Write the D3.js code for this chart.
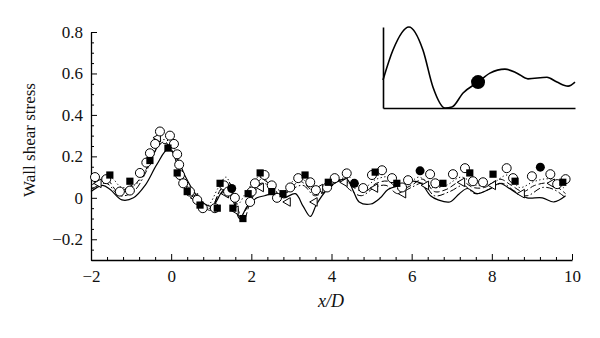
<!DOCTYPE html>
<html><head><meta charset="utf-8">
<script src="https://cdn.jsdelivr.net/npm/d3@7"></script>
<style>body{margin:0;background:#fff}svg{display:block}</style>
</head><body>
<svg id="c" width="600" height="338"></svg>
<script>
// ---- data ----
const xTicks = [-2, 0, 2, 4, 6, 8, 10];
const yTicks = [-0.2, 0, 0.2, 0.4, 0.6, 0.8];

// solid line
const solidX = [-2,-1.71,-1.52,-1.23,-0.94,-0.65,-0.36,-0.08,0.12,0.36,0.6,0.84,1.03,1.27,1.42,1.56,1.71,1.9,2.14,2.33,2.57,2.81,3.1,3.29,3.47,3.63,3.89,4.16,4.38,4.55,4.69,4.98,5.22,5.41,5.8,5.99,6.23,6.47,6.66,6.95,7.19,7.39,7.63,7.92,8.2,8.4,8.64,8.88,9.26,9.55,9.84];
const solidY = [0.03,0.06,0.04,-0.01,0.0,0.06,0.16,0.235,0.2,0.1,0.02,-0.03,-0.04,0.03,0.05,-0.02,-0.1,-0.04,0.0,0.01,0.02,0.0,0.02,-0.04,-0.09,-0.03,0.04,0.08,0.09,0.03,-0.02,-0.03,0.0,0.04,0.065,0.08,0.07,0.01,-0.01,-0.02,0.02,0.045,0.02,0.04,0.07,0.05,0.02,0.0,0.0,-0.02,0.01];
// dashed line
const dashX = [-2,-1.62,-1.33,-1.04,-0.65,-0.36,-0.17,0.02,0.21,0.45,0.74,0.98,1.23,1.42,1.61,1.8,2.0,2.24,2.43,2.67,2.91,3.2,3.49,3.73,3.97,4.26,4.55,4.83,5.12,5.41,5.7,5.99,6.28,6.57,6.86,7.24,7.53,7.82,8.2,8.49,8.78,9.07,9.46,9.84];
const dashY = [0.06,0.09,0.03,0.04,0.13,0.24,0.27,0.23,0.12,0.03,-0.03,-0.05,0.04,0.08,-0.02,-0.11,0.0,0.09,0.07,0.02,0.03,0.08,0.04,0.02,0.05,0.09,0.05,0.03,0.07,0.08,0.04,0.06,0.09,0.03,0.04,0.08,0.05,0.05,0.09,0.06,0.03,0.06,0.07,0.02];
// dash-dot line
const dashDotX = [-2,-1.62,-1.28,-0.94,-0.56,-0.27,-0.03,0.17,0.41,0.7,0.98,1.18,1.37,1.56,1.71,1.95,2.24,2.52,2.77,3.0,3.29,3.58,3.87,4.21,4.45,4.74,5.08,5.36,5.65,5.99,6.28,6.57,6.95,7.29,7.58,7.92,8.25,8.59,8.88,9.26,9.55,9.84];
const dashDotY = [0.04,0.07,0.01,0.03,0.15,0.26,0.25,0.15,0.05,-0.02,-0.06,0.02,0.07,0.0,-0.09,-0.03,0.07,0.05,0.01,0.04,0.06,0.01,0.04,0.08,0.04,0.01,0.05,0.06,0.02,0.05,0.07,0.01,0.03,0.06,0.02,0.04,0.07,0.03,0.01,0.05,0.04,0.0];
// dotted line
const dotX = [-2,-1.52,-1.23,-0.85,-0.46,-0.22,0.02,0.26,0.6,0.89,1.18,1.37,1.66,1.85,2.19,2.52,2.81,3.15,3.49,3.78,4.11,4.45,4.74,5.12,5.51,5.8,6.18,6.52,6.86,7.24,7.63,8.01,8.4,8.69,9.07,9.46,9.84];
const dotY = [0.08,0.1,0.05,0.07,0.2,0.28,0.26,0.1,0.01,-0.04,0.05,0.1,-0.03,0.02,0.1,0.06,0.03,0.1,0.06,0.04,0.08,0.1,0.04,0.09,0.1,0.05,0.1,0.05,0.06,0.1,0.06,0.07,0.11,0.05,0.08,0.09,0.04];

// open circles
const circX = [-1.9,-1.62,-1.28,-1.03,-0.78,-0.62,-0.53,-0.4,-0.28,-0.03,0.07,0.15,0.2,0.22,0.3,0.47,0.65,0.79,1.09,1.32,1.42,1.59,1.97,2.01,2.09,2.33,2.51,2.64,2.97,3.17,3.47,3.61,3.89,4.08,4.38,4.79,5.01,5.26,5.51,5.76,5.91,6.46,6.59,7.03,7.33,7.53,7.78,8.37,8.53,9.0,9.46,9.63,9.84];
const circY = [0.10,0.09,0.03,0.035,0.12,0.17,0.215,0.26,0.32,0.30,0.26,0.21,0.16,0.11,0.07,0.03,-0.01,-0.05,-0.05,0.06,0.03,0.0,-0.02,0.03,0.07,0.11,0.06,0.0,0.05,0.095,0.075,0.037,0.05,0.095,0.118,0.047,0.11,0.133,0.095,0.05,0.085,0.114,0.07,0.114,0.143,0.08,0.075,0.143,0.095,0.104,0.114,0.066,0.09];
// filled squares
const sqX = [-1.53,-1.03,-0.53,-0.08,0.15,0.4,0.72,1.15,1.22,1.54,1.79,1.92,2.22,2.51,2.79,3.34,3.92,5.09,5.63,6.78,7.45,8.03,8.58,9.77];
const sqY = [0.11,0.08,0.18,0.24,0.12,0.03,-0.035,-0.05,0.07,-0.05,-0.1,0.02,0.12,0.03,0.02,0.11,0.075,0.124,0.07,0.07,0.12,0.114,0.08,0.075];
// open left-pointing triangles
const triX = [-1.81,-1.04,-0.33,0.6,1.37,1.61,2.24,2.91,3.58,3.72,4.33,5.09,5.79,6.36,7.26,8.03,8.75,9.5];
const triY = [0.07,0.04,0.29,0.0,0.02,-0.06,0.05,-0.02,-0.02,0.045,0.075,0.047,0.02,0.06,0.075,0.06,0.02,0.07];
// filled circles
const fcX = [1.51, 4.57, 6.21, 9.21];
const fcY = [0.045, 0.07, 0.13, 0.148];

// inset curve
const insetX = [0,0.52,1.35,2.08,2.6,3.23,3.59,4.17,4.95,5.57,6.35,6.98,7.55,8.54,9.06,9.64,10];
const insetY = [0.346,0.716,1.0,0.716,0.26,0.0,0.012,0.185,0.32,0.43,0.48,0.43,0.36,0.38,0.32,0.27,0.32];
const insetMarker = [4.95, 0.32];

// ---- drawing ----
const svg = d3.select("#c");
const font = "'Liberation Serif','DejaVu Serif',serif";
const x = d3.scaleLinear().domain([-2, 10]).range([91, 572]);
const y = d3.scaleLinear().domain([-0.3, 0.8]).range([260, 32]);
const fmtY = d => d === 0 ? "0" : d3.format(".1f")(d);
const fmtX = d3.format("d");

// minor ticks
const xMinor = d3.range(-2, 10.001, 0.4).map(v => +v.toFixed(2)).filter(v => !xTicks.some(t => Math.abs(t - v) < 1e-6));
const yMinor = d3.range(-0.3, 0.8001, 0.05).map(v => +v.toFixed(3)).filter(v => !yTicks.some(t => Math.abs(t - v) < 1e-6));

const gx = svg.append("g").attr("transform", "translate(0,260)");
gx.call(d3.axisBottom(x).tickValues(xTicks).tickSize(-6).tickSizeOuter(0).tickPadding(10).tickFormat(fmtX));
gx.append("g").call(d3.axisBottom(x).tickValues(xMinor).tickSize(-3).tickSizeOuter(0).tickFormat(""))
  .select(".domain").remove();
const gy = svg.append("g").attr("transform", "translate(91,0)");
gy.call(d3.axisLeft(y).tickValues(yTicks).tickSize(-6).tickSizeOuter(0).tickPadding(8).tickFormat(fmtY));
gy.append("g").call(d3.axisLeft(y).tickValues(yMinor).tickSize(-3).tickSizeOuter(0).tickFormat(""))
  .select(".domain").remove();
svg.selectAll(".domain").attr("stroke", "#000").attr("stroke-width", 1.3);
svg.selectAll(".tick line").attr("stroke", "#000").attr("stroke-width", 1);
svg.selectAll(".tick text").attr("font-family", font).attr("font-size", 17).attr("fill", "#111");

// axis labels
svg.append("text").attr("transform", "rotate(-90)").attr("x", -140).attr("y", 35)
  .attr("text-anchor", "middle").attr("font-family", font).attr("font-size", 17).attr("fill", "#111")
  .text("Wall shear stress");
svg.append("text").attr("x", 331).attr("y", 307).attr("text-anchor", "middle")
  .attr("font-family", font).attr("font-size", 18).attr("font-style", "italic").attr("fill", "#111")
  .text("x/D");

// lines
const line = d3.line().x(d => x(d[0])).y(d => y(d[1])).curve(d3.curveCatmullRom.alpha(0.5));
const zipArr = (a, b) => a.map((v, i) => [v, b[i]]);
const lines = [
  {xs: dotX, ys: dotY, dash: "1.2,2.5", w: 1},
  {xs: dashDotX, ys: dashDotY, dash: "7,2.5,1.5,2.5", w: 1},
  {xs: dashX, ys: dashY, dash: "6,3", w: 1},
  {xs: solidX, ys: solidY, dash: null, w: 1.2}
];
lines.forEach(l => {
  svg.append("path").datum(zipArr(l.xs, l.ys)).attr("d", line)
    .attr("fill", "none").attr("stroke", "#000").attr("stroke-width", l.w)
    .attr("stroke-dasharray", l.dash);
});

// triangles (left pointing)
const triPath = d3.symbol().type(d3.symbolTriangle).size(32);
svg.append("g").selectAll("path").data(zipArr(triX, triY)).join("path")
  .attr("d", triPath)
  .attr("transform", d => `translate(${x(d[0])},${y(d[1])}) rotate(-90)`)
  .attr("fill", "#fff").attr("stroke", "#000").attr("stroke-width", 1);

// open circles
svg.append("g").selectAll("circle").data(zipArr(circX, circY)).join("circle")
  .attr("cx", d => x(d[0])).attr("cy", d => y(d[1])).attr("r", 4.5)
  .attr("fill", "#fff").attr("stroke", "#000").attr("stroke-width", 1);

// filled squares
svg.append("g").selectAll("rect").data(zipArr(sqX, sqY)).join("rect")
  .attr("x", d => x(d[0]) - 3.6).attr("y", d => y(d[1]) - 3.6)
  .attr("width", 7.2).attr("height", 7.2).attr("fill", "#000");

// filled circles
svg.append("g").selectAll("circle").data(zipArr(fcX, fcY)).join("circle")
  .attr("cx", d => x(d[0])).attr("cy", d => y(d[1])).attr("r", 4.5).attr("fill", "#000");

// inset
const ix = d3.scaleLinear().domain([0, 10]).range([383, 575]);
const iy = d3.scaleLinear().domain([0, 1]).range([108, 27]);
const gi = svg.append("g");
gi.append("g").attr("transform", "translate(0,108)")
  .call(d3.axisBottom(ix).tickValues([]).tickSizeOuter(0));
gi.append("g").attr("transform", "translate(383,0)")
  .call(d3.axisLeft(iy).tickValues([]).tickSizeOuter(0));
gi.selectAll(".domain").attr("stroke", "#000").attr("stroke-width", 1.6);
const iline = d3.line().x(d => ix(d[0])).y(d => iy(d[1])).curve(d3.curveMonotoneX);
gi.append("path").datum(zipArr(insetX, insetY)).attr("d", iline)
  .attr("fill", "none").attr("stroke", "#000").attr("stroke-width", 1.6);
gi.append("circle").attr("cx", ix(insetMarker[0])).attr("cy", iy(insetMarker[1])).attr("r", 7).attr("fill", "#000");
</script>
</body></html>
